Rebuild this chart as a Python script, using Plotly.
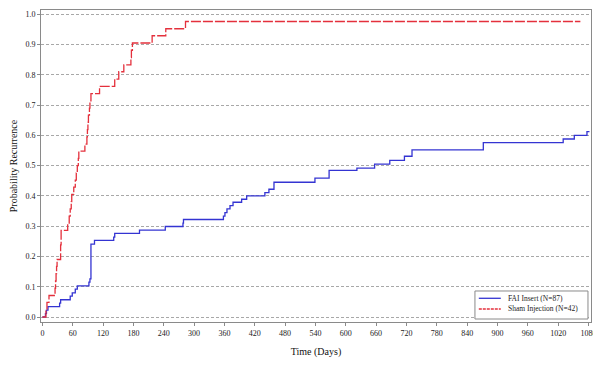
import plotly.graph_objects as go

# FAI Insert (N=87) Kaplan-Meier style cumulative recurrence
fai_days = [0, 6, 8, 11, 34, 36, 55, 59, 65, 69, 92, 94, 96, 103, 141, 143, 192, 243, 278, 279,
            358, 361, 365, 371, 377, 394, 404, 440, 448, 458, 539, 567, 622, 657, 687, 716, 731,
            872, 1030, 1052, 1077, 1082]
fai_prob = [0, 0.011, 0.023, 0.034, 0.046, 0.057, 0.069, 0.080, 0.092, 0.103, 0.115, 0.126, 0.241,
            0.253, 0.264, 0.276, 0.287, 0.299, 0.310, 0.322, 0.333, 0.345, 0.357, 0.368, 0.379,
            0.389, 0.400, 0.411, 0.422, 0.445, 0.459, 0.484, 0.492, 0.505, 0.517, 0.531, 0.552,
            0.576, 0.588, 0.600, 0.612, 0.612]

# Sham Injection (N=42)
sham_days = [0, 7, 9, 13, 25, 26, 27, 28, 29, 36, 37, 50, 53, 55, 57, 58, 62, 65, 67, 69, 71, 72,
             84, 88, 89, 90, 91, 93, 94, 96, 113, 143, 151, 161, 175, 176, 178, 217, 244, 283, 1064]
sham_prob = [0, 0.024, 0.048, 0.071, 0.095, 0.119, 0.143, 0.167, 0.190, 0.238, 0.286, 0.310, 0.333,
             0.357, 0.381, 0.405, 0.429, 0.452, 0.476, 0.500, 0.524, 0.548, 0.571, 0.595, 0.619,
             0.643, 0.667, 0.690, 0.714, 0.738, 0.762, 0.786, 0.810, 0.833, 0.857, 0.881, 0.905,
             0.929, 0.952, 0.976, 0.976]

series_names = ["FAI Insert (N=87)", "Sham Injection (N=42)"]
series_colors = ["#3434d2", "#e4303c"]
series_dash = ["solid", "10px,2px"]

x_ticks = list(range(0, 1081, 60))
y_ticks = [0.0, 0.1, 0.2, 0.3, 0.4, 0.5, 0.6, 0.7, 0.8, 0.9, 1.0]

SERIF = "Liberation Serif, Times New Roman, serif"
TXT = "#222222"

fig = go.Figure()
for days, prob, name, col, dash in zip([fai_days, sham_days], [fai_prob, sham_prob],
                                       series_names, series_colors, series_dash):
    fig.add_trace(go.Scatter(x=days, y=prob, mode="lines", line_shape="hv", name=name,
                             line=dict(color=col, width=1.3, dash=dash)))

# Legend box drawn inside the plot (bottom right), as in the reference
lx0, lx1, ly0, ly1 = 0.789, 0.9945, 0.0096, 0.0994
fig.add_shape(type="rect", xref="paper", yref="paper", x0=lx0, x1=lx1, y0=ly0, y1=ly1,
              line=dict(color="#8a8a8a", width=1), fillcolor="white", layer="above")
item_y = [0.076, 0.0417]
for yy, name, col, dash in zip(item_y, series_names, series_colors, series_dash):
    fig.add_shape(type="line", xref="paper", yref="paper", x0=0.796, x1=0.836, y0=yy, y1=yy,
                  line=dict(color=col, width=1.3, dash="3px,1px" if dash != "solid" else "solid"),
                  layer="above")
    fig.add_annotation(xref="paper", yref="paper", x=0.845, y=yy, text=name, showarrow=False,
                       xanchor="left", yanchor="middle",
                       font=dict(family=SERIF, size=7.5, color=TXT))

# the page body has an 8px default margin, so the figure is sized/offset to compensate
fig.update_layout(
    width=593, height=357,
    margin=dict(l=33, r=10, t=2, b=43, autoexpand=False),
    paper_bgcolor="white", plot_bgcolor="white",
    font=dict(family=SERIF, color=TXT),
    showlegend=False,
)
fig.update_xaxes(range=[-2.8, 1085], tickvals=x_ticks, ticktext=[str(v) for v in x_ticks],
                 showgrid=False, zeroline=False, automargin=False, ticklabeloverflow="allow",
                 showline=True, linecolor="#8a8a8a", linewidth=1, mirror=True,
                 ticks="outside", ticklen=3, tickcolor="#8a8a8a",
                 tickfont=dict(family=SERIF, size=8, color=TXT),
                 title=dict(text="Time (Days)", font=dict(family=SERIF, size=10, color="#111111"),
                            standoff=11))
fig.update_yaxes(range=[-0.0165, 1.014], tickvals=y_ticks, ticktext=[f"{v:.1f}" for v in y_ticks],
                 showgrid=True, gridcolor="#a8a8a8", gridwidth=1, griddash="3px,2px",
                 zeroline=False, automargin=False,
                 showline=True, linecolor="#8a8a8a", linewidth=1, mirror=True,
                 ticks="outside", ticklen=3, tickcolor="#8a8a8a",
                 tickfont=dict(family=SERIF, size=8, color=TXT),
                 title=dict(text="Probability Recurrence",
                            font=dict(family=SERIF, size=10, color="#111111"), standoff=6))

fig.write_html("out.html")
